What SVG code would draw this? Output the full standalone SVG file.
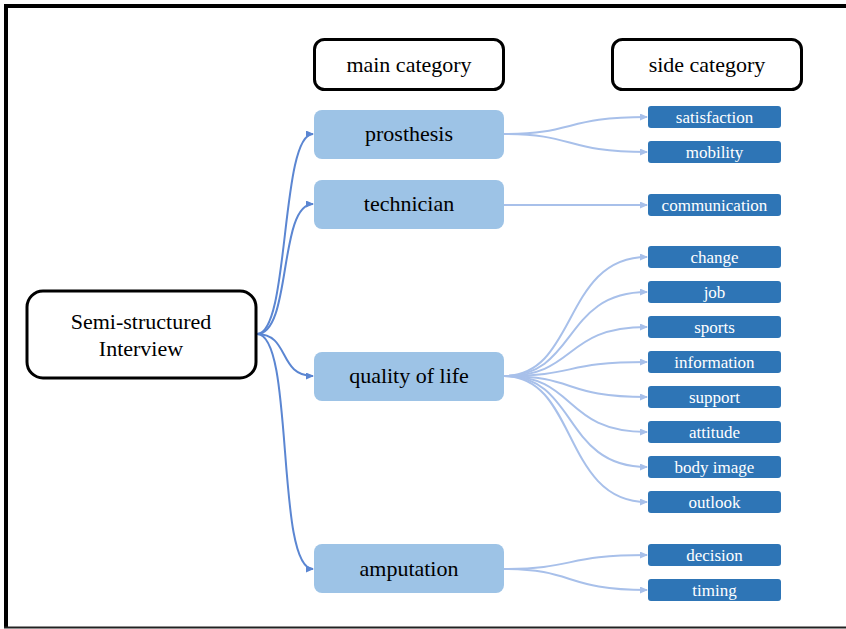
<svg xmlns="http://www.w3.org/2000/svg" width="846" height="629" viewBox="0 0 846 629">
<defs>
<style>
.t{font-family:"Liberation Serif","Times New Roman",Tinos,"DejaVu Serif",serif;text-anchor:middle}
.hdr{fill:#fff;stroke:#000;stroke-width:3}
.main{fill:#9DC3E6}
.side{fill:#2E75B6}
.mt{font-size:22px;fill:#000}
.st{font-size:17px;fill:#fff}
.rc{fill:none;stroke:#5B86D2;stroke-width:2}
.sc{fill:none;stroke:#A8C0EA;stroke-width:2}
</style>
<marker id="ar" markerWidth="9" markerHeight="8" refX="7" refY="3.5" orient="auto" markerUnits="userSpaceOnUse"><path d="M0,0 L8,3.5 L0,7 z" fill="#5B86D2"/></marker>
<marker id="al" markerWidth="9" markerHeight="8" refX="7" refY="3.5" orient="auto" markerUnits="userSpaceOnUse"><path d="M0,0 L8,3.5 L0,7 z" fill="#A8C0EA"/></marker>
</defs>
<rect width="846" height="629" fill="#fff"/>
<g id="frame" stroke="#000" fill="none">
<line x1="6" y1="6" x2="846" y2="6" stroke-width="4"/>
<line x1="6" y1="4" x2="6" y2="628" stroke-width="4"/>
<line x1="4" y1="627.5" x2="846" y2="627.5" stroke-width="2" stroke="#222"/>
</g>
<g id="connectors">
<path class="rc" marker-end="url(#ar)" d="M257,334 C290,334 280,134 313,134"/>
<path class="rc" marker-end="url(#ar)" d="M257,334 C292,334 278,204 313,204"/>
<path class="rc" marker-end="url(#ar)" d="M257,334 C290,334 278,376 313,376"/>
<path class="rc" marker-end="url(#ar)" d="M257,334 C295,334 275,569 313,569"/>
<path class="sc" marker-end="url(#al)" d="M504,134 C575,134 565,117 647,117"/>
<path class="sc" marker-end="url(#al)" d="M504,134 C575,134 565,152 647,152"/>
<path class="sc" marker-end="url(#al)" d="M504,205 L647,205"/>
<path class="sc" marker-end="url(#al)" d="M504,376 C578,376 562,257 647,257"/>
<path class="sc" marker-end="url(#al)" d="M504,376 C578,376 562,292 647,292"/>
<path class="sc" marker-end="url(#al)" d="M504,376 C578,376 562,327 647,327"/>
<path class="sc" marker-end="url(#al)" d="M504,376 C578,376 562,362 647,362"/>
<path class="sc" marker-end="url(#al)" d="M504,376 C578,376 562,397 647,397"/>
<path class="sc" marker-end="url(#al)" d="M504,376 C578,376 562,432 647,432"/>
<path class="sc" marker-end="url(#al)" d="M504,376 C578,376 562,467 647,467"/>
<path class="sc" marker-end="url(#al)" d="M504,376 C578,376 562,502 647,502"/>
<path class="sc" marker-end="url(#al)" d="M504,569 C575,569 565,555 647,555"/>
<path class="sc" marker-end="url(#al)" d="M504,569 C575,569 565,590 647,590"/>
</g>
<g id="root"><rect class="hdr" x="27" y="291" width="229" height="87" rx="16"/><text class="t mt" x="141" y="329">Semi-structured</text><text class="t mt" x="141" y="356">Interview</text></g>
<g id="hdr-main"><rect class="hdr" x="314.5" y="39.5" width="189" height="50" rx="10"/><text class="t mt" x="409" y="72">main category</text></g>
<g id="hdr-side"><rect class="hdr" x="612.5" y="39.5" width="189" height="50" rx="10"/><text class="t mt" x="707" y="72">side category</text></g>
<g id="prosthesis"><rect class="main" x="314" y="110" width="190" height="49" rx="8"/><text class="t mt" x="409" y="141">prosthesis</text></g>
<g id="technician"><rect class="main" x="314" y="180" width="190" height="49" rx="8"/><text class="t mt" x="409" y="211">technician</text></g>
<g id="quality"><rect class="main" x="314" y="352" width="190" height="49" rx="8"/><text class="t mt" x="409" y="383">quality of life</text></g>
<g id="amputation"><rect class="main" x="314" y="544" width="190" height="49" rx="8"/><text class="t mt" x="409" y="576">amputation</text></g>
<g id="satisfaction"><rect class="side" x="648" y="106" width="133" height="22" rx="3"/><text class="t st" x="714.5" y="123">satisfaction</text></g>
<g id="mobility"><rect class="side" x="648" y="141" width="133" height="22" rx="3"/><text class="t st" x="714.5" y="158">mobility</text></g>
<g id="communication"><rect class="side" x="648" y="194" width="133" height="22" rx="3"/><text class="t st" x="714.5" y="211">communication</text></g>
<g id="change"><rect class="side" x="648" y="246" width="133" height="22" rx="3"/><text class="t st" x="714.5" y="263">change</text></g>
<g id="job"><rect class="side" x="648" y="281" width="133" height="22" rx="3"/><text class="t st" x="714.5" y="298">job</text></g>
<g id="sports"><rect class="side" x="648" y="316" width="133" height="22" rx="3"/><text class="t st" x="714.5" y="333">sports</text></g>
<g id="information"><rect class="side" x="648" y="351" width="133" height="22" rx="3"/><text class="t st" x="714.5" y="368">information</text></g>
<g id="support"><rect class="side" x="648" y="386" width="133" height="22" rx="3"/><text class="t st" x="714.5" y="403">support</text></g>
<g id="attitude"><rect class="side" x="648" y="421" width="133" height="22" rx="3"/><text class="t st" x="714.5" y="438">attitude</text></g>
<g id="body-image"><rect class="side" x="648" y="456" width="133" height="22" rx="3"/><text class="t st" x="714.5" y="473">body image</text></g>
<g id="outlook"><rect class="side" x="648" y="491" width="133" height="22" rx="3"/><text class="t st" x="714.5" y="508">outlook</text></g>
<g id="decision"><rect class="side" x="648" y="544" width="133" height="22" rx="3"/><text class="t st" x="714.5" y="561">decision</text></g>
<g id="timing"><rect class="side" x="648" y="579" width="133" height="22" rx="3"/><text class="t st" x="714.5" y="596">timing</text></g>
</svg>
